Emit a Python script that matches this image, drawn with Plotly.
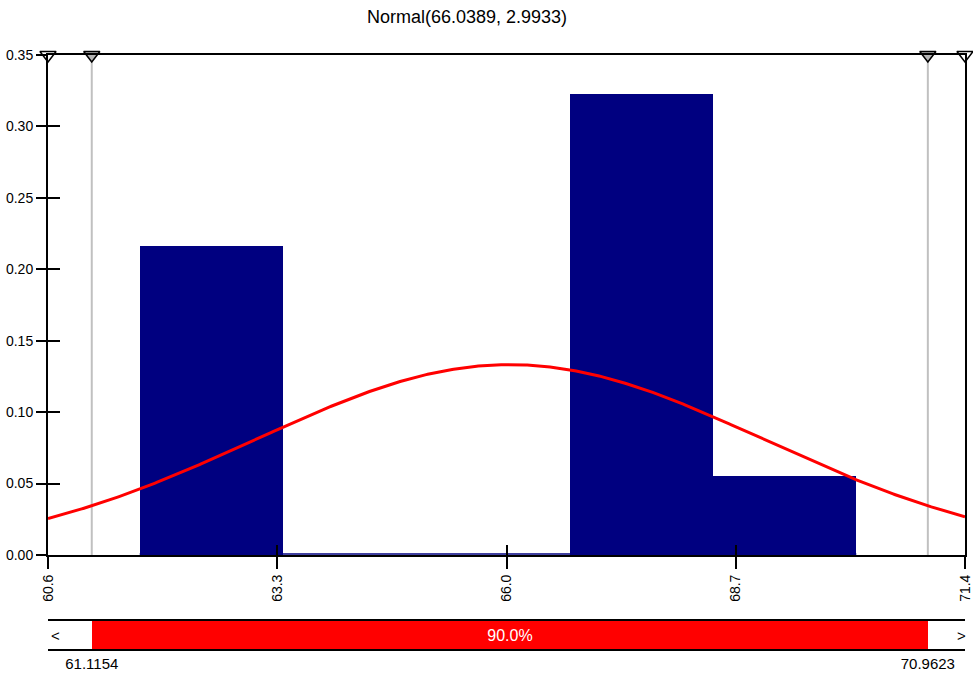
import numpy as np
import plotly.graph_objects as go

# ---- data ----
title_text = "Normal(66.0389, 2.9933)"
fit_mean = 66.0389
fit_sd = 2.9933
bin_edges = [61.68, 63.37, 65.06, 66.75, 68.43, 70.12]
bin_density = [0.216, 0.0, 0.0, 0.323, 0.055]
x_range = [60.6, 71.4]
x_ticks = [60.6, 63.3, 66.0, 68.7, 71.4]
y_ticks = [0.0, 0.05, 0.10, 0.15, 0.20, 0.25, 0.30, 0.35]
left_mark = 61.1154
right_mark = 70.9623
pct_label = "90.0%"

FONT = "Liberation Sans, Arial, sans-serif"
NAVY = "#000080"

centers = [(a + b) / 2 for a, b in zip(bin_edges[:-1], bin_edges[1:])]
widths = [b - a for a, b in zip(bin_edges[:-1], bin_edges[1:])]

xs = np.linspace(x_range[0], x_range[1], 600)
pdf = np.exp(-0.5 * ((xs - fit_mean) / fit_sd) ** 2) / (fit_sd * np.sqrt(2 * np.pi))

fig = go.Figure()

# grey delimiter lines
for xv in (left_mark, right_mark):
    fig.add_trace(go.Scatter(x=[xv, xv], y=[y_ticks[0], y_ticks[-1]], mode="lines",
                             line=dict(color="#c0c0c0", width=2), hoverinfo="skip",
                             showlegend=False, xaxis="x", yaxis="y"))

# thin baseline under empty bins
fig.add_trace(go.Scatter(x=[bin_edges[0], bin_edges[-1]], y=[0.0007, 0.0007], mode="lines",
                         line=dict(color=NAVY, width=1.5), showlegend=False, hoverinfo="skip",
                         xaxis="x", yaxis="y"))

fig.add_trace(go.Bar(x=centers, y=bin_density, width=widths, marker=dict(color=NAVY, line=dict(width=0)),
                     showlegend=False, xaxis="x", yaxis="y"))

fig.add_trace(go.Scatter(x=xs, y=pdf, mode="lines", line=dict(color="#ff0000", width=3),
                         showlegend=False, xaxis="x", yaxis="y"))

# triangle markers on the top edge
fig.add_trace(go.Scatter(x=[x_range[0], left_mark, right_mark, x_range[1]],
                         y=[y_ticks[-1]] * 4, mode="markers",
                         marker=dict(symbol="triangle-down", size=14,
                                     color=["white", "#b4b4b4", "#b4b4b4", "white"],
                                     line=dict(color="black", width=1.5)),
                         cliponaxis=False, showlegend=False, xaxis="x", yaxis="y"))

# dummy trace for inside-tick overlay axes
fig.add_trace(go.Scatter(x=[None], y=[None], mode="markers", showlegend=False,
                         xaxis="x3", yaxis="y3", hoverinfo="skip"))

# slider bar
fig.add_trace(go.Bar(y=[0], x=[right_mark - left_mark], base=[left_mark], orientation="h",
                     width=[1], marker=dict(color="#ff0000", line=dict(width=0)),
                     text=[pct_label], textposition="inside", insidetextanchor="middle",
                     textfont=dict(color="white", size=16, family=FONT),
                     showlegend=False, xaxis="x2", yaxis="y2"))

tickfont = dict(family=FONT, size=14, color="black")

fig.update_layout(
    width=973, height=676,
    margin=dict(l=48, r=8, t=55, b=27),
    paper_bgcolor="white", plot_bgcolor="white",
    bargap=0,
    title=dict(text=title_text, x=467 / 973, xref="container", xanchor="center",
               y=1 - 17 / 676, yref="container", yanchor="middle",
               font=dict(family=FONT, size=18, color="black")),
    xaxis=dict(domain=[0, 1], anchor="y", range=x_range, tickvals=x_ticks,
               ticktext=[f"{v:.1f}" for v in x_ticks], tickangle=-90,
               ticks="outside", ticklen=12, tickwidth=2, tickcolor="black",
               showline=True, linecolor="black", linewidth=2, mirror=True,
               showgrid=False, zeroline=False, tickfont=tickfont, automargin=False),
    yaxis=dict(domain=[(649 - 555) / 594, 1], anchor="x", range=[0, 0.35], tickvals=y_ticks,
               tickformat=".2f", ticks="outside", ticklen=10, tickwidth=2, tickcolor="black",
               showline=True, linecolor="black", linewidth=2, mirror=True,
               showgrid=False, zeroline=False, tickfont=tickfont, automargin=False),
    xaxis3=dict(overlaying="x", anchor="y3", range=x_range, tickvals=x_ticks,
                ticks="inside", ticklen=10, tickwidth=2, tickcolor="black",
                showticklabels=False, showline=False, showgrid=False, zeroline=False,
                automargin=False),
    yaxis3=dict(overlaying="y", anchor="x3", range=[0, 0.35], tickvals=y_ticks,
                ticks="inside", ticklen=12, tickwidth=2, tickcolor="black",
                showticklabels=False, showline=False, showgrid=False, zeroline=False,
                automargin=False),
    xaxis2=dict(domain=[0, 1], anchor="y2", range=x_range, tickvals=[left_mark, right_mark],
                ticktext=[f"{left_mark:.4f}", f"{right_mark:.4f}"], ticks="",
                showline=True, linecolor="black", linewidth=2, mirror=True,
                showgrid=False, zeroline=False, automargin=False,
                tickfont=dict(family=FONT, size=15, color="black")),
    yaxis2=dict(domain=[0, 28 / 594], anchor="x2", range=[-0.5, 0.5], showticklabels=False,
                ticks="", showline=False, showgrid=False, zeroline=False, automargin=False),
    annotations=[
        dict(text="<", x=0.008, y=0.5, xref="x2 domain", yref="y2 domain", showarrow=False,
             xanchor="center", yanchor="middle", font=dict(family=FONT, size=15, color="black")),
        dict(text=">", x=0.9965, y=0.5, xref="x2 domain", yref="y2 domain", showarrow=False,
             xanchor="center", yanchor="middle", font=dict(family=FONT, size=15, color="black")),
    ],
)

fig.write_html("out.html")
